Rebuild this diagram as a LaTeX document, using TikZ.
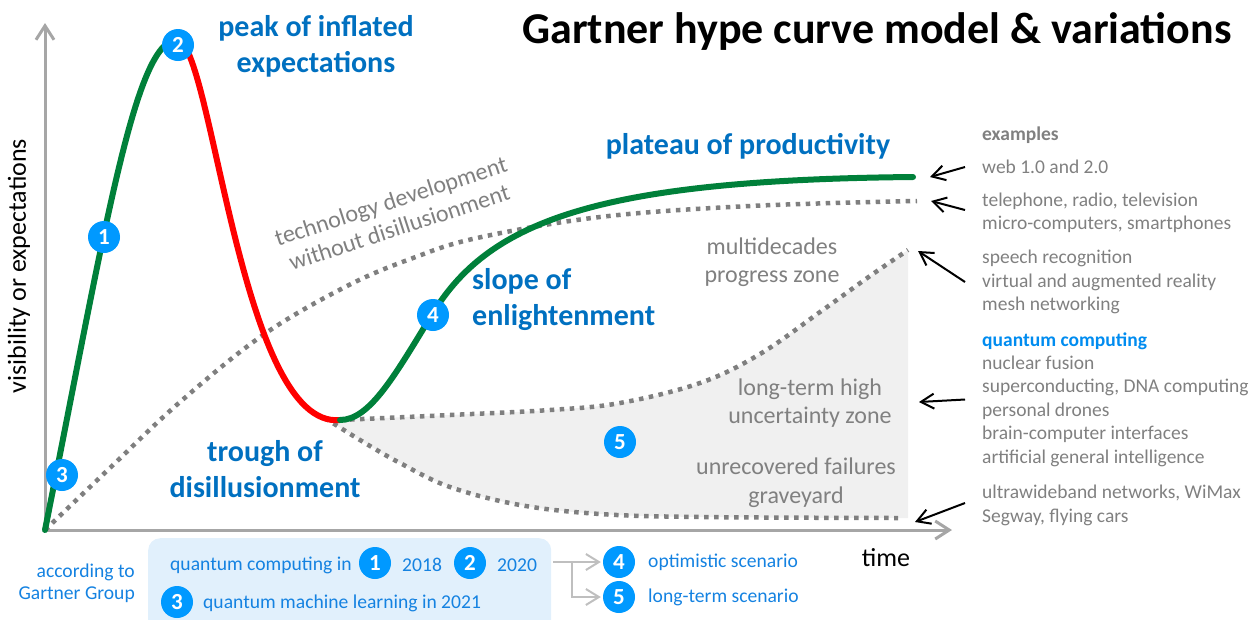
\documentclass[tikz,border=0pt]{standalone}
\usepackage{fontspec}
\setmainfont{Carlito}
\usetikzlibrary{arrows.meta}
\definecolor{labelblue}{RGB}{0,112,192}
\definecolor{circblue}{RGB}{0,153,255}
\definecolor{legblue}{RGB}{20,130,225}
\definecolor{qblue}{RGB}{0,140,240}
\definecolor{txtgray}{RGB}{128,128,128}
\definecolor{dotgray}{RGB}{127,127,127}
\definecolor{axisgray}{RGB}{166,166,166}
\definecolor{leggray}{RGB}{191,191,191}
\definecolor{zonefill}{RGB}{240,240,240}
\definecolor{boxblue}{RGB}{225,240,252}
\definecolor{hypegreen}{RGB}{0,128,58}
\definecolor{hypered}{RGB}{255,0,0}
\tikzset{
 hype/.style={line width=6pt, line cap=round},
 dotline/.style={draw=dotgray, line width=4.5pt, dash pattern=on 4.5pt off 5.5pt},
 axisline/.style={draw=axisgray, line width=3pt, -{Straight Barb[length=14pt,width=18pt]}},
 exarrow/.style={draw=black, line width=2pt, -{Straight Barb[length=13pt,width=15pt]}},
 legline/.style={draw=leggray, line width=2pt},
 legarrow/.style={draw=leggray, line width=2pt, -{Straight Barb[length=13pt,width=16pt]}},
 numcirc/.style={circle, fill=circblue, text=white, font=\fontsize{23}{23}\selectfont\bfseries, minimum size=32pt, inner sep=0pt},
 biglabel/.style={font=\fontsize{30}{36}\selectfont\bfseries, text=labelblue, inner sep=0pt},
 zonelabel/.style={font=\fontsize{24}{28}\selectfont, text=txtgray, align=center, inner sep=0pt},
 extext/.style={font=\fontsize{19.5}{23.4}\selectfont, text=txtgray, align=left, anchor=west, inner sep=0pt},
 legtext/.style={font=\fontsize{19.6}{22}\selectfont, text=legblue, inner sep=0pt},
 axislabel/.style={font=\fontsize{26}{30}\selectfont, text=black, inner sep=0pt},
}
\begin{document}
\begin{tikzpicture}[x=1pt,y=-1pt]
\useasboundingbox (0,0) rectangle (1252,619);

% axes
\coordinate (origin) at (45,530);
\coordinate (ytip) at (45,23);
\coordinate (xtip) at (952,530);
\draw[axisline] (origin) -- (ytip);
\draw[axisline] (origin) -- (xtip);

% grey zone
\fill[zonefill] plot[smooth,tension=0.6] coordinates {(340,420) (450,415) (550,410) (620,403) (700,383) (760,354) (820,312) (870,276) (908,250)}
  -- (908,518)
  -- plot[smooth,tension=0.6] coordinates {(898,518) (700,517) (600,514) (520,505) (450,487) (400,463) (360,440) (325,418)} -- cycle;

% dotted curves
\draw[dotline] plot[smooth,tension=0.6] coordinates {(45,530) (112,466) (180,402) (263,335) (347,286) (413,258) (477,238) (600,217) (750,206) (917,201)};
\draw[dotline] plot[smooth,tension=0.6] coordinates {(340,420) (450,415) (550,410) (620,403) (700,383) (760,354) (820,312) (870,276) (908,250)};
\draw[dotline] plot[smooth,tension=0.6] coordinates {(325,418) (360,440) (400,463) (450,487) (520,505) (600,514) (700,517) (898,518)};

% hype curve
\draw[hype, draw=hypegreen] (45,530) .. controls (105,230) and (135,40) .. (177,40);
\draw[hype, draw=hypered] (177,40) .. controls (212,40) and (240,430) .. (340,420);
\draw[hype, draw=hypegreen] (340,420) .. controls (370,420) and (395,375) .. (433,313) .. controls (490,220) and (600,180) .. (913,177);

% numbered circles on the chart
\node[numcirc] (n1) at (104,237) {1};
\node[numcirc] (n2) at (178,45) {2};
\node[numcirc] (n3) at (62,475) {3};
\node[numcirc] (n4) at (433,315) {4};
\node[numcirc] (n5) at (620,442) {5};

% title
\node[font=\fontsize{44}{50}\selectfont\bfseries, anchor=base, inner sep=0pt] (title) at (877,43) {Gartner hype curve model \& variations};

% phase labels
\node[biglabel, align=center] (peak) at (316,46) {peak of inflated\\expectations};
\node[biglabel] (plateau) at (748,146) {plateau of productivity};
\node[biglabel, align=left, anchor=west] (slope) at (472,300) {slope of\\enlightenment};
\node[biglabel, align=center] (trough) at (265,469) {trough of\\disillusionment};

% zone labels
\node[zonelabel, font=\fontsize{24}{27.5}\selectfont, rotate=18] (tech) at (395,214) {technology development\\without disillusionment};
\node[zonelabel] (multi) at (772,262) {multidecades\\progress zone};
\node[zonelabel] (longterm) at (810,403) {long-term high\\uncertainty zone};
\node[zonelabel, font=\fontsize{24}{29}\selectfont] (grave) at (796,483) {unrecovered failures\\graveyard};

% axis labels
\node[axislabel, rotate=90] (ylab) at (19,266) {visibility or expectations};
\node[axislabel] (xlab) at (886,558) {time};

% examples
\node[extext, font=\fontsize{19.5}{23.4}\selectfont\bfseries] (exhead) at (982,135) {examples};
\node[extext] (exweb) at (982,167) {web 1.0 and 2.0};
\node[extext] (extel) at (982,212.5) {telephone, radio, television\\micro-computers, smartphones};
\node[extext] (exspeech) at (982,282) {speech recognition\\virtual and augmented reality\\mesh networking};
\node[extext] (exquant) at (982,399.5) {\textcolor{qblue}{\bfseries quantum computing}\\nuclear fusion\\superconducting, DNA computing\\personal drones\\brain-computer interfaces\\artificial general intelligence};
\node[extext] (exfail) at (982,505.5) {ultrawideband networks, WiMax\\Segway, flying cars};

\coordinate (tWeb) at (930,177);
\coordinate (tTel) at (931,201);
\coordinate (tSpeech) at (918,251);
\coordinate (tQuant) at (919,402);
\coordinate (tFail) at (915,522);
\draw[exarrow] ([xshift=-17pt]exweb.west) -- (tWeb);
\draw[exarrow] ([xshift=-17pt,yshift=2.5pt]extel.west) -- (tTel);
\draw[exarrow] ([xshift=-17pt]exspeech.west) -- (tSpeech);
\draw[exarrow] ([xshift=-17pt]exquant.west) -- (tQuant);
\draw[exarrow] ([xshift=-17pt,yshift=2.5pt]exfail.west) -- (tFail);

% legend
\node[legtext, align=right, anchor=east] (gartner) at (135,583) {according to\\Gartner Group};
\node[fill=boxblue, rounded corners=12pt, minimum width=403pt, minimum height=100pt, anchor=north west, inner sep=0pt] (legbox) at (148,538) {};
\node[legtext, anchor=west] (qc) at (170,565) {quantum computing in};
\node[numcirc] (l1) at (375,563) {1};
\node[legtext, anchor=west] (y2018) at (402,565) {2018};
\node[numcirc] (l2) at (470,563) {2};
\node[legtext, anchor=west] (y2020) at (497,565) {2020};
\node[numcirc] (l3) at (177,602) {3};
\node[legtext, anchor=west] (qml) at (203,603) {quantum machine learning in 2021};

\node[numcirc] (l4) at (619,562) {4};
\node[numcirc] (l5) at (619,597) {5};
\node[legtext, anchor=west] (opt) at (648,562) {optimistic scenario};
\node[legtext, anchor=west] (lts) at (648,597) {long-term scenario};

\coordinate (legout) at (553,562);
\coordinate (fork) at (572,562);
\draw[legline] (legout) -- (fork);
\draw[legarrow] (fork) -- ([xshift=-2pt]l4.west);
\draw[legarrow] (fork) |- ([xshift=-2pt]l5.west);
\end{tikzpicture}
\end{document}
